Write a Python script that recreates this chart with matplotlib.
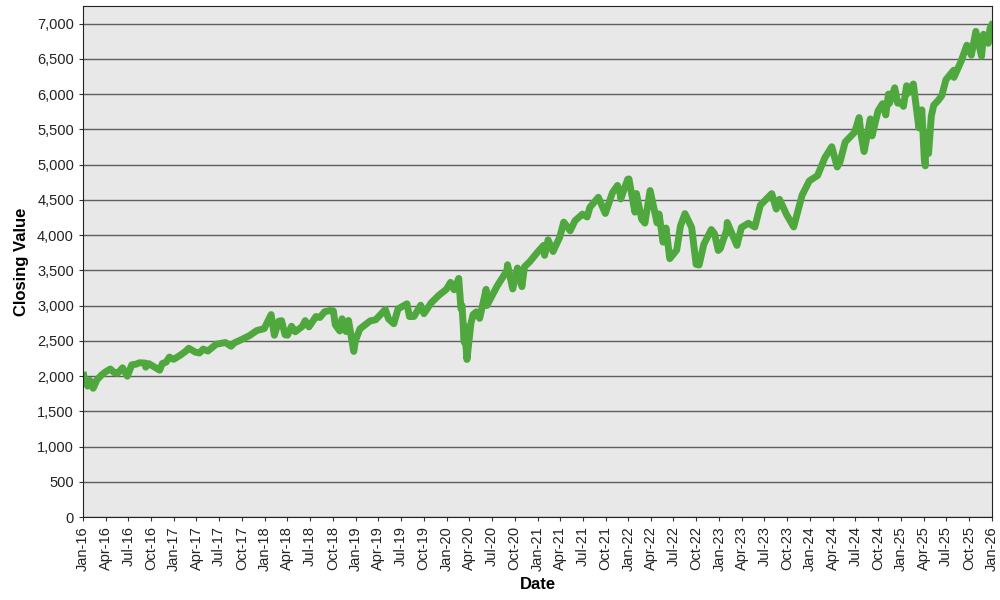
import pandas as pd
import matplotlib
matplotlib.use("Agg")
import matplotlib.pyplot as plt
import matplotlib.dates as mdates
from matplotlib.ticker import FuncFormatter, MultipleLocator

plt.rcParams['font.family'] = ['Liberation Sans', 'DejaVu Sans']

# closing values
dates = [
    "2016-01-04", "2016-01-08", "2016-01-20", "2016-01-29", "2016-02-11", "2016-02-26", "2016-03-15", "2016-03-31",
    "2016-04-20", "2016-05-05", "2016-05-19", "2016-06-08", "2016-06-27", "2016-07-15", "2016-08-01", "2016-08-15",
    "2016-09-07", "2016-09-09", "2016-09-22", "2016-10-11", "2016-11-04", "2016-11-15", "2016-11-30", "2016-12-13",
    "2016-12-30",
    "2017-01-26", "2017-02-15", "2017-03-01", "2017-03-27", "2017-04-13", "2017-04-28", "2017-05-17", "2017-06-19",
    "2017-07-26", "2017-08-18", "2017-08-31", "2017-09-29", "2017-10-31", "2017-11-30", "2017-12-29",
    "2018-01-26", "2018-02-08", "2018-02-26", "2018-03-09", "2018-03-23", "2018-04-02", "2018-04-18", "2018-05-03",
    "2018-05-31", "2018-06-12", "2018-06-27", "2018-07-25", "2018-08-10", "2018-08-29", "2018-09-20", "2018-10-03",
    "2018-10-11", "2018-10-29", "2018-11-07", "2018-11-23", "2018-12-03", "2018-12-24", "2018-12-31",
    "2019-01-18", "2019-02-28", "2019-03-22", "2019-04-30", "2019-05-13", "2019-06-03", "2019-06-20", "2019-07-26",
    "2019-08-05", "2019-08-23", "2019-09-19", "2019-10-02", "2019-10-31", "2019-11-29", "2019-12-31",
    "2020-01-17", "2020-01-31", "2020-02-19", "2020-02-28", "2020-03-03", "2020-03-12", "2020-03-13", "2020-03-23",
    "2020-04-08", "2020-04-17", "2020-04-30", "2020-05-13", "2020-06-08", "2020-06-11", "2020-07-22", "2020-08-31",
    "2020-09-02", "2020-09-23", "2020-10-12", "2020-10-30", "2020-11-09", "2020-11-30", "2020-12-31",
    "2021-01-25", "2021-01-29", "2021-02-12", "2021-03-04", "2021-03-31", "2021-04-16", "2021-05-12", "2021-05-31",
    "2021-06-30", "2021-07-19", "2021-07-30", "2021-09-02", "2021-09-30", "2021-10-29", "2021-11-18", "2021-11-30",
    "2021-12-01", "2021-12-29",
    "2022-01-03", "2022-01-27", "2022-02-02", "2022-02-23", "2022-03-08", "2022-03-29", "2022-04-26", "2022-05-04",
    "2022-05-20", "2022-06-01", "2022-06-16", "2022-07-14", "2022-07-29", "2022-08-16", "2022-09-12", "2022-09-30",
    "2022-10-12", "2022-10-31", "2022-11-30", "2022-12-13", "2022-12-28",
    "2023-01-05", "2023-01-31", "2023-02-02", "2023-03-13", "2023-03-31", "2023-04-28", "2023-05-24", "2023-06-15",
    "2023-07-31", "2023-08-18", "2023-08-31", "2023-09-29", "2023-10-27", "2023-11-30", "2023-12-29",
    "2024-01-31", "2024-02-29", "2024-03-28", "2024-04-19", "2024-04-30", "2024-05-21", "2024-06-28", "2024-07-16",
    "2024-07-25", "2024-08-05", "2024-08-30", "2024-09-06", "2024-09-30", "2024-10-18", "2024-10-31", "2024-11-11",
    "2024-11-15", "2024-12-06", "2024-12-18", "2024-12-31",
    "2025-01-10", "2025-01-23", "2025-01-27", "2025-02-19", "2025-03-10", "2025-03-13", "2025-03-25", "2025-04-04",
    "2025-04-08", "2025-04-09", "2025-04-21", "2025-05-02", "2025-05-12", "2025-05-30", "2025-06-13", "2025-06-30",
    "2025-07-31", "2025-08-01", "2025-08-29", "2025-09-22", "2025-10-10", "2025-10-28", "2025-11-20", "2025-11-28",
    "2025-12-17", "2025-12-24", "2025-12-31",
]
closes = [
    2012, 1922, 1859, 1940, 1829, 1948, 2015, 2060,
    2102, 2050, 2040, 2119, 2000, 2161, 2170, 2190,
    2186, 2128, 2177, 2136, 2085, 2180, 2199, 2271,
    2239,
    2298, 2349, 2396, 2342, 2329, 2384, 2357, 2453,
    2477, 2425, 2472, 2519, 2575, 2648, 2674,
    2873, 2581, 2780, 2787, 2588, 2582, 2708, 2630,
    2705, 2787, 2699, 2846, 2833, 2914, 2931, 2926,
    2728, 2641, 2814, 2633, 2790, 2351, 2507,
    2671, 2784, 2800, 2946, 2812, 2744, 2954, 3026,
    2845, 2847, 3006, 2887, 3038, 3141, 3231,
    3330, 3226, 3386, 2954, 3003, 2481, 2711, 2237,
    2750, 2875, 2912, 2820, 3232, 3002, 3276, 3500,
    3580, 3237, 3534, 3270, 3550, 3622, 3756,
    3855, 3714, 3934, 3768, 3973, 4185, 4063, 4204,
    4298, 4258, 4395, 4537, 4308, 4605, 4705, 4567,
    4513, 4793,
    4797, 4326, 4590, 4226, 4171, 4632, 4175, 4300,
    3901, 4101, 3667, 3790, 4130, 4305, 4110, 3586,
    3577, 3872, 4080, 4019, 3783,
    3808, 4077, 4179, 3855, 4109, 4169, 4115, 4425,
    4589, 4370, 4508, 4288, 4117, 4568, 4770,
    4846, 5096, 5254, 4967, 5036, 5321, 5460, 5667,
    5399, 5186, 5648, 5408, 5762, 5864, 5705, 6001,
    5870, 6090, 5872, 5882,
    5827, 6119, 6012, 6144, 5614, 5522, 5777, 5074,
    4983, 5457, 5158, 5686, 5844, 5912, 5977, 6205,
    6339, 6238, 6460, 6694, 6553, 6890, 6538, 6849,
    6721, 6932, 6980,
]

df = pd.DataFrame({"date": pd.to_datetime(dates), "close": closes})

fig = plt.figure(figsize=(10, 6), dpi=100)
ax = fig.add_axes([0.083, 0.138, 0.909, 0.852])
ax.set_facecolor("#e8e8e8")

ax.plot(df["date"], df["close"], color="#4fa83d", linewidth=5, solid_joinstyle="round")

ax.set_xlim(pd.Timestamp("2016-01-01"), pd.Timestamp("2026-01-01"))
ax.set_ylim(0, 7250)
ax.yaxis.set_major_locator(MultipleLocator(500))
ax.yaxis.set_major_formatter(FuncFormatter(lambda v, p: f"{int(v):,}"))
ax.xaxis.set_major_locator(mdates.MonthLocator(bymonth=[1, 4, 7, 10]))
ax.xaxis.set_major_formatter(mdates.DateFormatter("%b-%y"))
plt.setp(ax.get_xticklabels(), rotation=90)

ax.grid(axis="y", color="#5e5e5e", linewidth=1)
ax.set_axisbelow(True)
ax.tick_params(axis="both", labelsize=10.5, length=3, color="#333333", labelcolor="#222222")
for s in ax.spines.values():
    s.set_color("#222222")

ax.set_xlabel("Date", fontsize=12, fontweight="bold", labelpad=4)
ax.set_ylabel("Closing Value", fontsize=12, fontweight="bold", labelpad=6)

fig.savefig("out.png", dpi=100)
